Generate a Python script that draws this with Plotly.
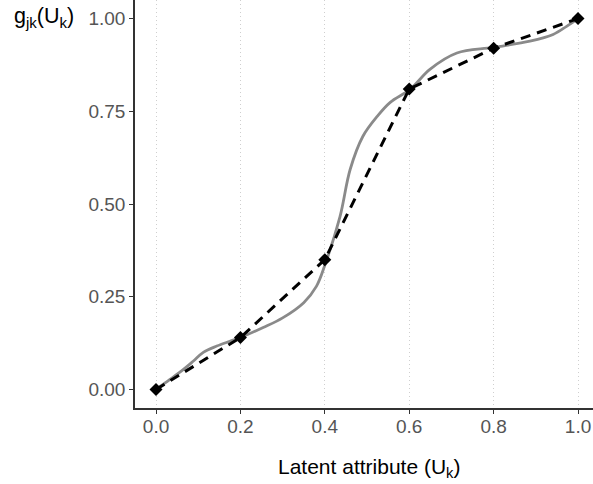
import plotly.graph_objects as go

# Knot values of the piecewise-linear approximation
knot_u = [0.0, 0.2, 0.4, 0.6, 0.8, 1.0]
knot_g = [0.0, 0.14, 0.35, 0.81, 0.92, 1.0]

# Smooth link function g_jk(U_k)
curve_u = [0.0, 0.033, 0.065, 0.088, 0.112, 0.144, 0.175, 0.2, 0.254, 0.30, 0.35,
           0.38, 0.40, 0.436, 0.46, 0.49, 0.524, 0.555, 0.602, 0.649, 0.713, 0.799,
           0.886, 0.941, 0.973, 1.0]
curve_g = [0.0, 0.027, 0.054, 0.076, 0.10, 0.117, 0.13, 0.14, 0.167, 0.193, 0.234,
           0.278, 0.335, 0.466, 0.593, 0.682, 0.736, 0.774, 0.809, 0.863, 0.907, 0.922,
           0.939, 0.957, 0.979, 1.0]

x_ticks = [0.0, 0.2, 0.4, 0.6, 0.8, 1.0]
x_labels = ["0.0", "0.2", "0.4", "0.6", "0.8", "1.0"]
y_ticks = [0.0, 0.25, 0.5, 0.75, 1.0]
y_labels = ["0.00", "0.25", "0.50", "0.75", "1.00"]

FONT = "Liberation Sans, Arial, sans-serif"

fig = go.Figure()
fig.add_trace(go.Scatter(
    x=curve_u, y=curve_g, mode="lines",
    line=dict(color="#8a8a8a", width=2.8, shape="spline", smoothing=1.0),
    showlegend=False, hoverinfo="skip"))
fig.add_trace(go.Scatter(
    x=knot_u, y=knot_g, mode="lines+markers",
    line=dict(color="#000000", width=3, dash="10px,7px"),
    marker=dict(symbol="diamond", size=10, color="#000000"),
    showlegend=False))

axis_common = dict(
    showline=True, linecolor="#333333", linewidth=1.6,
    ticks="outside", ticklen=4, tickwidth=1.2, tickcolor="#333333",
    tickfont=dict(family=FONT, size=19, color="#555555"),
    zeroline=False,
)
fig.update_xaxes(range=[-0.0498, 1.0355], tickvals=x_ticks, ticktext=x_labels,
                 showgrid=True, gridcolor="#cfcfcf", gridwidth=1, griddash="1px,3px",
                 ticklabelstandoff=-4, **axis_common)
fig.update_yaxes(range=[-0.05, 1.05], tickvals=y_ticks, ticktext=y_labels,
                 showgrid=False, **axis_common)

fig.add_annotation(text="g<sub>jk</sub>(U<sub>k</sub>)", xref="paper", yref="paper",
                   x=-0.268, y=0.958, xanchor="left", yanchor="middle", showarrow=False,
                   font=dict(family=FONT, size=21.5, color="#000000"))
fig.add_annotation(text="Latent attribute (U<sub>k</sub>)", xref="paper", yref="paper",
                   x=0.51, y=-0.147, xanchor="center", yanchor="middle", showarrow=False,
                   font=dict(family=FONT, size=21, color="#000000"))

fig.update_layout(
    width=593, height=484,
    margin=dict(l=135, r=0, t=0, b=76),
    plot_bgcolor="white", paper_bgcolor="white",
)
fig.write_html("out.html")
